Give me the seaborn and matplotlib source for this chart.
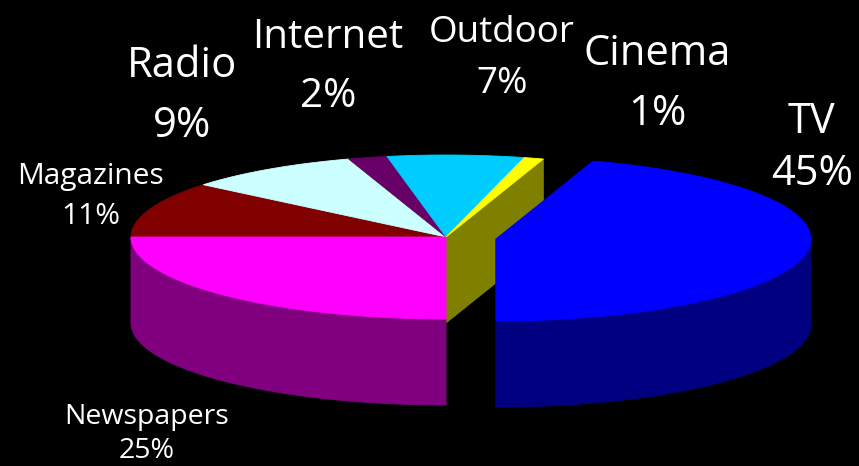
import numpy as np
import matplotlib
matplotlib.use("Agg")
import matplotlib.pyplot as plt
import seaborn as sns

# Media share of advertising spend, clockwise from nine o'clock
categories = ["Magazines", "Radio", "Internet", "Outdoor", "Cinema", "TV", "Newspapers"]
shares = [11, 9, 2, 7, 1, 45, 25]
top_colors = ["#800000", "#CCFFFF", "#660066", "#00CCFF", "#FFFF00", "#0000FF", "#FF00FF"]
side_colors = ["#400000", "#669999", "#330033", "#006680", "#808000", "#000080", "#800080"]
explode = [0, 0, 0, 0, 0, 0.16, 0]

# label placement: (x, name baseline, percent baseline, font size)
label_layout = {
    "Magazines": (91, 184, 224, 21.5),
    "Radio": (182, 77, 137, 30),
    "Internet": (328, 48, 107, 29),
    "Outdoor": (502, 42, 93, 26.5),
    "Cinema": (657, 65, 125, 30),
    "TV": (812, 133, 185, 30),
    "Newspapers": (147, 424, 458, 20.5),
}

sns.set_theme(style="dark")
plt.rcParams["font.family"] = ["Open Sans", "DejaVu Sans"]

fig = plt.figure(figsize=(8.59, 4.66), dpi=100, facecolor="black")
ax = fig.add_axes([0, 0, 1, 1])
ax.set_facecolor("black")
ax.set_xlim(0, 859)
ax.set_ylim(466, 0)
ax.axis("off")

# geometry of the tilted disc (screen pixels)
CX, CY, RX, RY, DEPTH = 446, 237, 315, 82, 86
START = 180.0

bounds = START - 3.6 * np.concatenate([[0], np.cumsum(shares)])
palette_top = sns.color_palette(top_colors)
palette_side = sns.color_palette(side_colors)


def rim(cx, cy, th_deg, dz=0.0):
    t = np.radians(th_deg)
    return cx + RX * np.cos(t), cy - RY * np.sin(t) + dz


def arc(cx, cy, a1, a2, dz=0.0):
    n = max(int(abs(a1 - a2)) * 2, 4)
    th = np.linspace(a1, a2, n)
    x, y = rim(cx, cy, th, dz)
    return list(zip(x, y))


def slice_center(i):
    a1, a2 = bounds[i], bounds[i + 1]
    mid = np.radians((a1 + a2) / 2)
    e = explode[i]
    return CX + e * RX * np.cos(mid), CY - e * RY * np.sin(mid)


def fill(poly, color, z):
    xs, ys = zip(*poly)
    ax.fill(xs, ys, facecolor=color, edgecolor=color, linewidth=0.6, zorder=z)


n = len(shares)
near_gap = [explode[i] > 0 or explode[(i - 1) % n] > 0 or explode[(i + 1) % n] > 0
            for i in range(n)]

groups = [[i for i in range(n) if explode[i] == 0], [i for i in range(n) if explode[i] > 0]]
z = 1
for group in groups:
    # side walls first
    for i in group:
        cx, cy = slice_center(i)
        a1, a2 = bounds[i], bounds[i + 1]
        if near_gap[i]:
            for th, visible in ((a2, np.cos(np.radians(a2)) > 1e-6),
                                (a1, np.cos(np.radians(a1)) < -1e-6)):
                if visible:
                    px, py = rim(cx, cy, th)
                    poly = [(cx, cy), (px, py), (px, py + DEPTH), (cx, cy + DEPTH)]
                    fill(poly, palette_side[i], z)
        lo, hi = max(a2, -180.0), min(a1, 0.0)
        if hi > lo:
            poly = arc(cx, cy, hi, lo) + arc(cx, cy, lo, hi, DEPTH)
            fill(poly, palette_side[i], z)
    z += 1
    # then the top faces
    for i in group:
        cx, cy = slice_center(i)
        poly = [(cx, cy)] + arc(cx, cy, bounds[i], bounds[i + 1])
        fill(poly, palette_top[i], z)
    z += 1

for cat, val in zip(categories, shares):
    x, y1, y2, fs = label_layout[cat]
    ax.text(x, y1, cat, color="white", fontsize=fs, ha="center", va="baseline", zorder=10)
    ax.text(x, y2, f"{val}%", color="white", fontsize=fs, ha="center", va="baseline", zorder=10)

fig.savefig("out.png", dpi=100, facecolor="black")
